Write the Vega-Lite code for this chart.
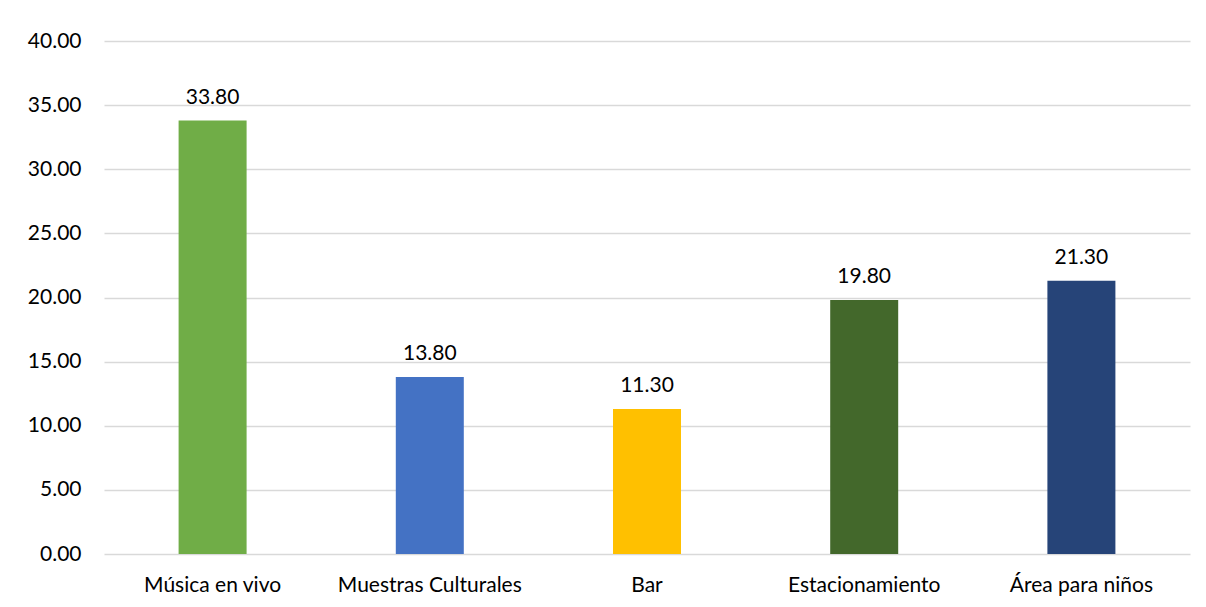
{
  "$schema": "https://vega.github.io/schema/vega-lite/v6.json",
  "width": 1086,
  "height": 513,
  "autosize": {"type": "none"},
  "padding": {"left": 104, "top": 41, "right": 16, "bottom": 53},
  "background": "white",
  "data": {"values": [
    {"cat": "Música en vivo", "val": 33.8, "color": "#70ad47"},
    {"cat": "Muestras Culturales", "val": 13.8, "color": "#4472c4"},
    {"cat": "Bar", "val": 11.3, "color": "#ffc000"},
    {"cat": "Estacionamiento", "val": 19.8, "color": "#43682b"},
    {"cat": "Área para niños", "val": 21.3, "color": "#264478"}
  ]},
  "config": {
    "view": {"stroke": null},
    "font": "Lato",
    "axis": {"labelFont": "Lato", "labelFontSize": 21, "labelColor": "#000000", "labelLimit": 0, "ticks": false, "domain": false, "title": null}
  },
  "encoding": {
    "x": {"field": "cat", "type": "nominal", "sort": null,
      "scale": {"paddingInner": 0, "paddingOuter": 0},
      "axis": {"labelAngle": 0, "labelPadding": 20, "grid": false, "labelLimit": 0}},
    "y": {"field": "val", "type": "quantitative",
      "scale": {"domain": [0, 40], "nice": false},
      "axis": {"values": [0, 5, 10, 15, 20, 25, 30, 35, 40], "format": ".2f", "labelPadding": 23, "grid": true, "gridColor": "#d9d9d9", "gridWidth": 1.5}}
  },
  "layer": [
    {"mark": {"type": "bar", "width": 68}, "encoding": {"color": {"field": "color", "type": "nominal", "scale": null}}},
    {"mark": {"type": "text", "baseline": "bottom", "dy": -13, "fontSize": 21, "font": "Lato", "color": "#000000"},
     "encoding": {"text": {"field": "val", "type": "quantitative", "format": ".2f"}}}
  ]
}
